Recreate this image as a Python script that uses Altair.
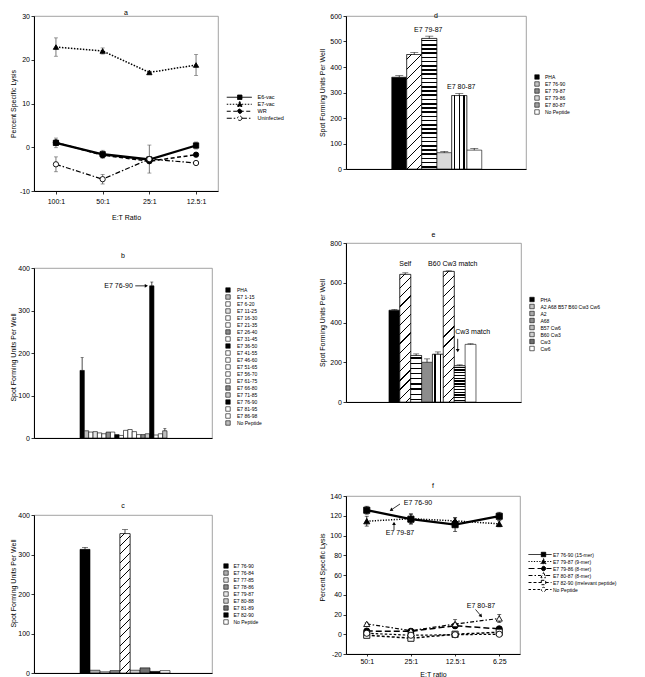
import json
import math
import altair as alt
import pandas as pd

FONT = "Liberation Sans"

# ---------------- panel a ----------------
a_ratios = ["100:1", "50:1", "25:1", "12.5:1"]
a_series = ["E6-vac", "E7-vac", "WR", "Uninfected"]
a_e6 = [1.0, -1.6, -2.8, 0.4]
a_e6_err = [1.1, 0.9, 0.5, 0.8]
a_e7 = [22.9, 22.0, 17.1, 18.8]
a_e7_err = [2.1, 0.7, 0.3, 2.4]
a_wr = [1.1, -1.8, -3.2, -1.7]
a_wr_err = [0.5, 0.6, 0.4, 0.3]
a_un = [-3.9, -7.3, -2.7, -3.6]
a_un_err = [1.7, 1.1, 3.2, 0.3]

# ---------------- panel b ----------------
b_peptides = ["PHA", "E7 1-15", "E7 6-20", "E7 11-25", "E7 16-30", "E7 21-35", "E7 26-40",
              "E7 31-45", "E7 36-50", "E7 41-55", "E7 46-60", "E7 51-65", "E7 56-70",
              "E7 61-75", "E7 66-80", "E7 71-85", "E7 76-90", "E7 81-95", "E7 86-98", "No Peptide"]
b_spots = [159, 17, 14, 15, 12, 10, 14, 14, 8, 6, 18, 20, 15, 8, 8, 10, 358, 7, 10, 17]
b_err = [30, 0, 0, 0, 0, 0, 0, 0, 0, 0, 0, 0, 0, 0, 0, 0, 9, 0, 0, 5]

# ---------------- panel c ----------------
c_peptides = ["E7 76-90", "E7 76-84", "E7 77-85", "E7 78-86", "E7 79-87", "E7 80-88",
              "E7 81-89", "E7 82-90", "No Peptide"]
c_spots = [313, 7, 3, 6, 353, 7, 13, 4, 6]
c_err = [5, 0, 0, 0, 10, 0, 0, 0, 0]

# ---------------- panel d ----------------
d_peptides = ["PHA", "E7 76-90", "E7 79-87", "E7 79-86", "E7 80-87", "No Peptide"]
d_spots = [360, 449, 512, 64, 288, 74]
d_err = [6, 8, 9, 5, 8, 7]

# ---------------- panel e ----------------
e_targets = ["PHA", "A2 A68 B57 B60 Cw3 Cw6", "A2", "A68", "B57 Cw6", "B60 Cw3", "Cw3", "Cw6"]
e_spots = [462, 642, 234, 200, 240, 657, 182, 290]
e_err = [3, 8, 8, 17, 12, 3, 5, 3]

# ---------------- panel f ----------------
f_ratios = ["50:1", "25:1", "12.5:1", "6.25"]
f_series = ["E7 76-90 (15-mer)", "E7 79-87 (9-mer)", "E7 79-86 (8-mer)", "E7 80-87 (8-mer)",
            "E7 82-90 (irrelevant peptide)", "No Peptide"]
f_7690 = [125.6, 116.5, 111.0, 119.5]
f_7690_err = [4, 5, 7, 4]
f_7987 = [114.5, 117.0, 114.8, 111.8]
f_7987_err = [5, 5, 3, 3]
f_7986 = [3.2, 3.0, 8.6, 5.5]
f_7986_err = [1, 1, 2, 1]
f_8087 = [10.5, 3.6, 10.3, 16.0]
f_8087_err = [1, 2, 4.5, 4]
f_8290 = [-1.0, -4.0, 0.0, 2.0]
f_8290_err = [1, 1.5, 1, 1]
f_nop = [1.0, -1.0, -0.5, 0.0]
f_nop_err = [1, 1, 1, 1]


# ---------------- helpers ----------------
def stripes(kind, w, h, period, lw):
    if kind == "v":
        L = w
        vec = dict(x1=0, y1=0, x2=1, y2=0)
    elif kind == "h":
        L = h
        vec = dict(x1=0, y1=0, x2=0, y2=1)
    else:
        k = (w + h) / (w * w + h * h)
        L = (w + h) / 2 ** 0.5
        vec = dict(x1=0, y1=0, x2=round(w * k, 5), y2=round(h * k, 5))
    n = max(1, int(round(L / period)))
    f = min(0.85, lw * n / L)
    stops = []
    for i in range(n):
        a0 = i / n
        s0 = (i + (1 - f) / 2) / n
        s1 = (i + (1 + f) / 2) / n
        stops += [(a0, "white"), (s0, "white"), (s0, "black"), (s1, "black"), (s1, "white")]
    stops.append((1, "white"))
    g = {"gradient": "linear", "stops": [{"offset": round(o, 5), "color": c} for o, c in stops]}
    g.update(vec)
    return g


def title(letter, off):
    return alt.TitleParams(text=letter, fontSize=7, font=FONT, fontWeight="normal", offset=off,
                           baseline="bottom", anchor="middle", frame="group", color="black")


NEG = "datum.value < 0 ? '-' + abs(datum.value) : datum.label"


def arrow(X, Y, x1, y1, x2, y2, kx, ky):
    """Arrow from (x1,y1) to (x2,y2) in data units; kx, ky = pixels per data unit."""
    d = pd.DataFrame({"ax": [x1], "ay": [y1], "bx": [x2], "by": [y2]})
    ang = math.degrees(math.atan2((x2 - x1) * kx, (y2 - y1) * ky)) % 360
    c = alt.Chart(d)
    return [c.mark_rule(color="black", strokeWidth=0.8).encode(x=X("ax:Q"), x2="bx:Q", y=Y("ay:Q"), y2="by:Q"),
            c.mark_point(shape="triangle-up", angle=round(ang, 1), size=14, filled=True, color="black",
                         opacity=1).encode(x=X("bx:Q"), y=Y("by:Q"))]


def bar_panel(letter, cats, vals, errs, fills, patterns, ymax, ystep, W, H, lpad, rpad,
              title_off, ytx, yty, leg, cap, notes, arrows):
    n = len(cats)
    df = pd.DataFrame({"cat": cats, "i": list(range(n)), "val": vals, "err": errs})
    df["x0"] = df["i"] - 0.5
    df["x1"] = df["i"] + 0.5
    df["base"] = 0
    df["top"] = df["val"] + df["err"]
    xs = alt.Scale(domain=[-0.5 - lpad, n - 0.5 + rpad], nice=False, zero=False)
    xa = alt.Axis(labels=False, ticks=False, title=None, grid=False)
    yargs = dict(values=list(range(0, ymax + 1, ystep)), title="Spot Forming Units Per Well",
                 titleX=ytx, tickSize=3, labelPadding=1.5)
    if yty is not None:
        yargs["titleY"] = yty
    ya = alt.Axis(**yargs)
    ys = alt.Scale(domain=[0, ymax], nice=False, zero=True)

    def X(f):
        return alt.X(f, scale=xs, axis=xa)

    def Y(f):
        return alt.Y(f, scale=ys, axis=ya)

    lx, ly, lf, lo, lsz, rp = leg
    legend = alt.Legend(orient="none", legendX=lx, legendY=ly, title=None, symbolType="square",
                        symbolSize=lsz, symbolStrokeColor="black", symbolStrokeWidth=0.6,
                        labelFontSize=lf, labelOffset=lo, rowPadding=rp, padding=0,
                        labelFont=FONT, labelColor="black")
    base = alt.Chart(df)
    layers = [base.mark_bar(stroke="black", strokeWidth=0.6).encode(
        x=X("x0:Q"), x2="x1:Q", y=Y("val:Q"), y2="base:Q",
        fill=alt.Fill("cat:N", scale=alt.Scale(domain=cats, range=fills), legend=legend))]
    step = W / (n + lpad + rpad)
    for cat, (kind, period, lw) in patterns.items():
        h = vals[cats.index(cat)] / ymax * H
        layers.append(base.transform_filter(alt.datum.cat == cat).mark_bar(
            fill=stripes(kind, step, h, period, lw), stroke="black", strokeWidth=0.6).encode(
            x=X("x0:Q"), x2="x1:Q", y=Y("val:Q"), y2="base:Q"))
    eb = base.transform_filter("datum.err > 0")
    layers.append(eb.mark_rule(color="black", strokeWidth=0.7).encode(x=X("i:Q"), y=Y("val:Q"), y2="top:Q"))
    layers.append(eb.mark_tick(color="black", thickness=0.7, size=cap, orient="horizontal").encode(
        x=X("i:Q"), y=Y("top:Q")))
    for cat, yv, txt, dx, align_t in notes:
        nd = pd.DataFrame({"i": [cats.index(cat)], "ny": [yv], "t": [txt]})
        layers.append(alt.Chart(nd).mark_text(dx=dx, fontSize=7, font=FONT, align=align_t,
                                              baseline="middle", color="black").encode(
            x=X("i:Q"), y=Y("ny:Q"), text="t:N"))
    for x1, y1, x2, y2 in arrows:
        layers += arrow(X, Y, x1, y1, x2, y2, step, H / ymax)
    return alt.layer(*layers).properties(width=W, height=H, title=title(letter, title_off))


def legend_path(shape, x0, x1, m, r, hollow):
    def f(v):
        return ("%.3f" % v).rstrip("0").rstrip(".")
    if shape == "square":
        mk = f"M{f(m-r)},{f(-r)}L{f(m+r)},{f(-r)}L{f(m+r)},{f(r)}L{f(m-r)},{f(r)}Z"
        rr = r
    elif shape == "triangle":
        mk = f"M{f(m)},{f(-1.3*r)}L{f(m+1.2*r)},{f(r)}L{f(m-1.2*r)},{f(r)}Z"
        rr = 1.2 * r
    else:
        mk = f"M{f(m+r)},0A{f(r)},{f(r)},0,1,1,{f(m-r)},0A{f(r)},{f(r)},0,1,1,{f(m+r)},0Z"
        rr = r
    if hollow:
        ln = f"M{f(x0)},0L{f(m-rr)},0M{f(m+rr)},0L{f(x1)},0"
    else:
        ln = f"M{f(x0)},0L{f(x1)},0"
    return ln + mk


def line_panel(letter, ratios, series, vals, errs, styles, ydom, ystep, W, H, xpad, xtitle,
               title_off, ytx, yty, xty, tick, labpad, leg, msize, errcolor, notes, arrows):
    rows = []
    for s, vs, es in zip(series, vals, errs):
        for k, (v, e) in enumerate(zip(vs, es)):
            rows.append({"xi": k, "series": s, "v": v, "lo": v - e, "hi": v + e})
    df = pd.DataFrame(rows)
    nr = len(ratios)
    xs = alt.Scale(domain=[-xpad, nr - 1 + xpad], nice=False, zero=False)
    xa = alt.Axis(title=xtitle, values=list(range(nr)), labelExpr=json.dumps(ratios) + "[datum.value]",
                  labelAngle=0, tickSize=tick, labelPadding=labpad, titleY=xty, grid=False)
    ys = alt.Scale(domain=ydom, nice=False, zero=False)
    yargs = dict(values=list(range(ydom[0], ydom[1] + 1, ystep)), title="Percent Specific Lysis",
                 titleX=ytx, tickSize=3, labelPadding=1.5, labelExpr=NEG)
    if yty is not None:
        yargs["titleY"] = yty
    ya = alt.Axis(**yargs)

    def X(f):
        return alt.X(f, scale=xs, axis=xa)

    def Y(f):
        return alt.Y(f, scale=ys, axis=ya)

    layers = []
    for s, st in zip(series, styles):
        sub = alt.Chart(df).transform_filter(alt.datum.series == s)
        lk = dict(color="black", strokeWidth=st["w"])
        if st["dash"]:
            lk["strokeDash"] = st["dash"]
        layers.append(sub.mark_line(**lk).encode(x=X("xi:Q"), y=Y("v:Q")))
        layers.append(sub.mark_rule(color=errcolor, strokeWidth=0.8).encode(x=X("xi:Q"), y=Y("lo:Q"), y2="hi:Q"))
        for fld in ("hi:Q", "lo:Q"):
            layers.append(sub.mark_tick(color=errcolor, thickness=0.8, size=4, orient="horizontal").encode(
                x=X("xi:Q"), y=Y(fld)))
    for s, st in zip(series, styles):
        sub = alt.Chart(df).transform_filter(alt.datum.series == s)
        layers.append(sub.mark_point(shape=st["shape"], filled=True, fill=st["fill"], stroke="black",
                                     strokeWidth=0.9, size=msize, opacity=1).encode(x=X("xi:Q"), y=Y("v:Q")))
    lx, ly, lf, lo, unit, x0, x1, m, r, rp = leg
    paths = [legend_path({"square": "square", "triangle-up": "triangle"}.get(st["shape"], "circle"),
                         x0, x1, m, r, st["fill"] == "white") for st in styles]
    L = alt.Legend(orient="none", legendX=lx, legendY=ly, title=None, symbolSize=unit,
                   symbolStrokeColor="black", symbolStrokeWidth=1.0, labelFontSize=lf,
                   labelOffset=lo, rowPadding=rp, padding=0, labelFont=FONT, labelColor="black")
    ns = len(series)
    layers.append(alt.Chart(df).transform_filter("false").mark_point(
        filled=True, opacity=1, strokeWidth=1.0).encode(
        x=X("xi:Q"), y=Y("v:Q"),
        shape=alt.Shape("series:N", scale=alt.Scale(domain=series, range=paths), legend=L),
        fill=alt.Fill("series:N", scale=alt.Scale(domain=series, range=[st["fill"] for st in styles]), legend=L),
        stroke=alt.Stroke("series:N", scale=alt.Scale(domain=series, range=["black"] * ns), legend=L),
        strokeDash=alt.StrokeDash("series:N", scale=alt.Scale(domain=series,
                                  range=[st["dash"] or [1, 0] for st in styles]), legend=L)))
    for xv, yv, txt in notes:
        nd = pd.DataFrame({"nx": [xv], "ny": [yv], "t": [txt]})
        layers.append(alt.Chart(nd).mark_text(fontSize=7, font=FONT, align="center",
                                              baseline="middle", color="black").encode(
            x=X("nx:Q"), y=Y("ny:Q"), text="t:N"))
    kx = W / (nr - 1 + 2 * xpad)
    ky = H / (ydom[1] - ydom[0])
    for x1, y1, x2, y2 in arrows:
        layers += arrow(X, Y, x1, y1, x2, y2, kx, ky)
    return alt.layer(*layers).properties(width=W, height=H, title=title(letter, title_off))


# ---------------- panels ----------------
a_styles = [
    dict(w=2.3, dash=None, shape="square", fill="black"),
    dict(w=1.5, dash=[1.5, 1.5], shape="triangle-up", fill="black"),
    dict(w=1.5, dash=[4, 2.5], shape="circle", fill="black"),
    dict(w=1.2, dash=[5, 2, 1.5, 2], shape="circle", fill="white"),
]
pa = line_panel("a", a_ratios, a_series, [a_e6, a_e7, a_wr, a_un],
                [a_e6_err, a_e7_err, a_wr_err, a_un_err], a_styles, [-10, 30], 10, 184, 175, 0.47,
                "E:T Ratio", -11, -18, None, 22, 3, 3,
                (193, 78.5, 5.5, 25, 16, -1.5, 11, 5, 1.1, -3), 28, "#555555", [], [])

b_fills = ["black", "#bdbdbd", "white", "#e3e3e3", "white", "white", "#8c8c8c", "white", "black",
           "white", "white", "white", "white", "white", "#8c8c8c", "#c8c8c8", "black", "white",
           "white", "#bdbdbd"]
pb = bar_panel("b", b_peptides, b_spots, b_err, b_fills, {}, 400, 100, 178, 170, 10.57, 10.34,
               -1.5, -18, 89, (191, 19, 5, 6, 20, -2.3), 3,
               [("E7 76-90", 358, "E7 76-90", -19, "right")],
               [(12.2, 358, 14.75, 358)])

c_fills = ["black", "#b0b0b0", "#e6e6e6", "#8c8c8c", "#e8e8e8", "#cfcfcf", "#707070", "black", "white"]
pc = bar_panel("c", c_peptides, c_spots, c_err, c_fills, {"E7 79-87": ("d", 6, 0.7)}, 400, 100,
               178, 158, 4.6, 4.2, -4.5, -18, 68, (189, 48, 5, 4.5, 20, -2.5), 6, [], [])

d_fills = ["black", "#c4c4c4", "#8a8a8a", "#d9d9d9", "#a0a0a0", "white"]
pd_ = bar_panel("d", d_peptides, d_spots, d_err, d_fills,
                {"E7 76-90": ("d", 7, 0.9), "E7 79-87": ("h", 4.2, 1.6), "E7 80-87": ("v", 5, 1.5)},
                600, 100, 180, 153, 3.05, 2.95, -14, -21, None, (188, 58, 5, 5, 20, -2.5), 8,
                [("E7 79-87", 544, "E7 79-87", -1, "center"),
                 ("E7 80-87", 320, "E7 80-87", 2, "center")], [])

e_fills = ["black", "#c4c4c4", "#a8a8a8", "#8c8c8c", "#bcbcbc", "#d0d0d0", "#6e6e6e", "white"]
pe = bar_panel("e", e_targets, e_spots, e_err, e_fills,
               {"A2 A68 B57 B60 Cw3 Cw6": ("d", 6.4, 0.9), "A2": ("h", 5, 1.2),
                "B57 Cw6": ("v", 5.4, 1.5), "B60 Cw3": ("d", 7, 0.8), "Cw3": ("h", 2.8, 1.3)},
               800, 200, 175, 159, 3.95, 4.14, -5.5, -21, None, (183, 53.5, 5, 5.5, 20, -2.5), 6,
               [("A2 A68 B57 B60 Cw3 Cw6", 695, "Self", 0, "center"),
                ("B60 Cw3", 695, "B60 Cw3 match", 4, "center"),
                ("Cw3", 352, "Cw3 match", 13, "center")],
               [(5.82, 318, 5.82, 258)])

f_styles = [
    dict(w=2.3, dash=None, shape="square", fill="black"),
    dict(w=1.5, dash=[1.2, 1.5], shape="triangle-up", fill="black"),
    dict(w=1.5, dash=[6, 3], shape="circle", fill="black"),
    dict(w=1.2, dash=[4, 2, 1.5, 2], shape="triangle-up", fill="white"),
    dict(w=1.5, dash=[3, 2], shape="square", fill="white"),
    dict(w=1.2, dash=[2.5, 2], shape="circle", fill="white"),
]
pf = line_panel("f", f_ratios, f_series, [f_7690, f_7987, f_7986, f_8087, f_8290, f_nop],
                [f_7690_err, f_7987_err, f_7986_err, f_8087_err, f_8290_err, f_nop_err],
                f_styles, [-20, 140], 20, 174, 158, 0.47, "E:T ratio", -3.5, -21, 71, 16, 2, 1,
                (183, 56, 5, 19, 16, -1.5, 10, 6, 1.1, -4), 38, "black",
                [(1.16, 133.2, "E7 76-90"), (0.753, 102.8, "E7 79-87"), (2.587, 28.6, "E7 80-87")],
                [(0.753, 131.9, 0.55, 125.8), (0.617, 105.6, 0.617, 112.4),
                 (2.463, 25.1, 2.587, 18.5)])

RES = dict(fill="independent", shape="independent", strokeDash="independent", stroke="independent")

left = alt.vconcat(pa, alt.vconcat(pb, pc, spacing=59).resolve_scale(**RES), spacing=30).resolve_scale(**RES)
right = alt.vconcat(pd_, alt.vconcat(pe, pf, spacing=75).resolve_scale(**RES), spacing=57).resolve_scale(**RES)

chart = alt.hconcat(left, right, spacing=32).resolve_scale(**RES).properties(padding=0)
chart = chart.configure(font=FONT).configure_view(stroke="#8a8a8a", strokeWidth=0.8).configure_axis(
    domainColor="black", domainWidth=1, tickColor="black", tickWidth=0.8, labelFont=FONT,
    titleFont=FONT, labelFontSize=7, titleFontSize=7, titleFontWeight="normal", labelColor="black",
    titleColor="black", grid=False).configure_text(font=FONT)

chart.save("out.html", embed_options={"renderer": "svg", "actions": False})
